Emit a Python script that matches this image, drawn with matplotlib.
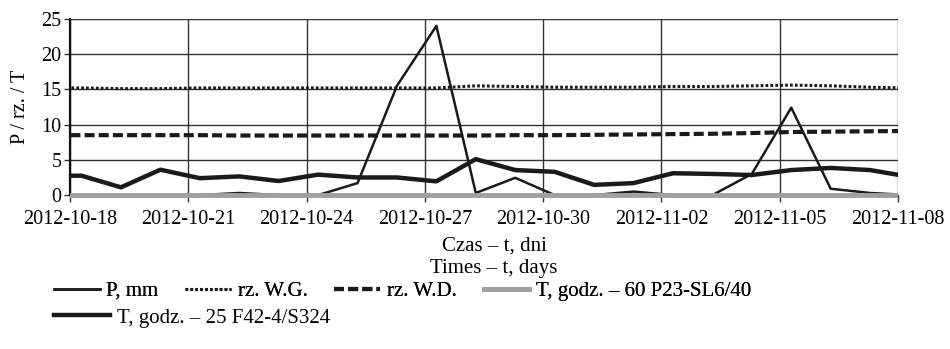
import numpy as np
import pandas as pd
import matplotlib
matplotlib.use('Agg')
import matplotlib.pyplot as plt
import matplotlib.dates as mdates
from matplotlib.patches import Rectangle

plt.rcParams['font.family'] = ['Liberation Serif', 'DejaVu Serif']

# ================== DATA ==================
days = pd.date_range('2012-10-17 07:00', '2012-11-08 07:00', freq='D')

p_mm = [0.0, 0.0, 0.0, 0.0, 0.0, 0.3, 0.0, 0.0, 1.7, 15.5, 24.0,
        0.3, 2.45, 0.0, 0.0, 0.5, 0.0, 0.0, 3.0, 12.4, 0.9, 0.3, 0.0]
rz_wg = [15.2, 15.2, 15.1, 15.1, 15.2, 15.2, 15.2, 15.2, 15.2, 15.2, 15.2,
         15.5, 15.4, 15.3, 15.3, 15.3, 15.4, 15.4, 15.5, 15.6, 15.5, 15.3, 15.2]
rz_wd = [8.5, 8.5, 8.5, 8.5, 8.5, 8.45, 8.45, 8.45, 8.45, 8.45, 8.45, 8.45,
         8.5, 8.5, 8.55, 8.6, 8.65, 8.7, 8.8, 8.95, 9.0, 9.05, 9.1]
t_60 = [0.0] * 23
t_25 = [2.75, 2.75, 1.1, 3.6, 2.4, 2.65, 2.0, 2.9, 2.5, 2.5, 1.95, 5.1,
        3.55, 3.3, 1.45, 1.7, 3.1, 3.0, 2.85, 3.55, 3.85, 3.55, 2.6]

tick_dates = pd.date_range('2012-10-18', '2012-11-08', freq='3D')

x_label = 'Czas \u2013 t, dni\nTimes \u2013 t, days'
y_label = 'P / rz. / T'

# ================== PLOT ==================
fig = plt.figure(figsize=(9.5, 3.49), dpi=100)
ax = fig.add_axes([0.0737, 0.441, 0.8716, 0.505])

clip = Rectangle((0, -0.03), 1, 1.06, transform=ax.transAxes)

l_p, = ax.plot(days, p_mm, color='#1a1a1a', lw=1.8, label='P, mm', zorder=3)
l_wg, = ax.plot(days, rz_wg, color='#1a1a1a', lw=2.2, linestyle=(0, (0.9, 0.7)),
                label='rz. W.G.', zorder=3)
l_wd, = ax.plot(days, rz_wd, color='#1a1a1a', lw=3.0, linestyle=(0, (2.4, 1.0)),
                label='rz. W.D.', zorder=3)
l_t60, = ax.plot(days, t_60, color='#a0a0a0', lw=3.5,
                 label='T, godz. \u2013 60 P23-SL6/40', zorder=4)
l_t25, = ax.plot(days, t_25, color='#1a1a1a', lw=3.2,
                 label='T, godz. \u2013 25 F42-4/S324', zorder=3)
for ln in [l_p, l_wg, l_wd, l_t60, l_t25]:
    ln.set_clip_path(clip)

ax.set_xlim(pd.Timestamp('2012-10-18'), pd.Timestamp('2012-11-08'))
ax.set_ylim(0, 25)
ax.set_yticks([0, 5, 10, 15, 20, 25])
ax.set_xticks(tick_dates)
ax.xaxis.set_major_formatter(mdates.DateFormatter('%Y-%m-%d'))

ax.grid(True, color='#333333', lw=1.0)
ax.set_axisbelow(True)
for s in ['top', 'right']:
    ax.spines[s].set_visible(False)
ax.spines['left'].set_color('#111111')
ax.spines['left'].set_linewidth(1.6)
ax.spines['bottom'].set_color('#333333')
ax.spines['bottom'].set_zorder(1)
ax.tick_params(axis='x', direction='out', length=5, width=1, labelsize=14.5,
               color='#333333', pad=6)
ax.tick_params(axis='y', direction='out', length=4, width=1, labelsize=14.5,
               color='#333333', pad=2)

ax.set_ylabel(y_label, fontsize=14.5, labelpad=8)
fig.text(0.52, 1 - 257 / 349, x_label, ha='center', va='center',
         fontsize=15, linespacing=1.25)

leg_kw = dict(loc='center left', frameon=False, fontsize=15,
              handletextpad=0.3, columnspacing=1.3, borderaxespad=0,
              borderpad=0)
row1 = [l_p, l_wg, l_wd, l_t60]
leg1 = fig.legend(handles=row1, labels=[h.get_label() for h in row1],
                  bbox_to_anchor=(0.057, 1 - 291 / 349), ncol=4,
                  handlelength=2.2, **leg_kw)
fig.add_artist(leg1)
fig.legend(handles=[l_t25], labels=[l_t25.get_label()],
           bbox_to_anchor=(0.057, 1 - 318 / 349), ncol=1,
           handlelength=2.7, **leg_kw)

fig.savefig('out.png', dpi=100)
